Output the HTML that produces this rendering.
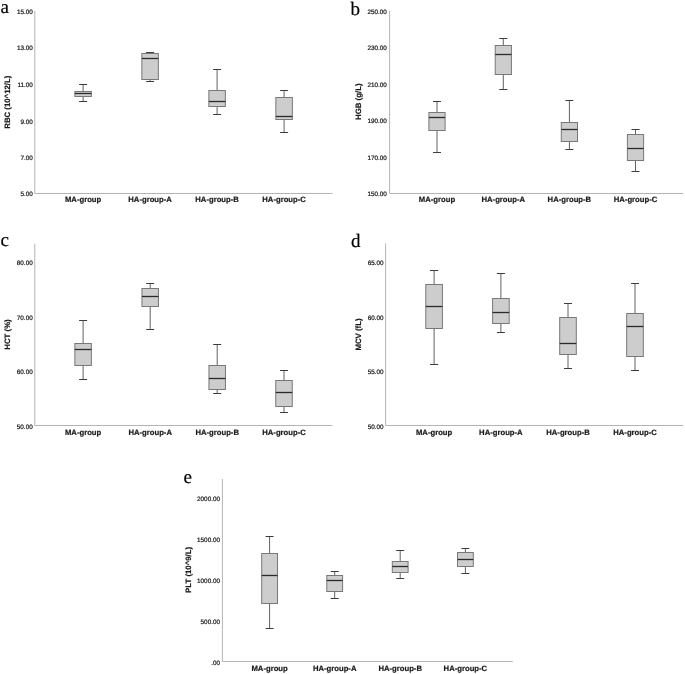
<!DOCTYPE html>
<html><head><meta charset="utf-8"><style>
html,body{margin:0;padding:0;background:#fff;}
body{width:685px;height:674px;overflow:hidden;}
svg{display:block;}
text{text-rendering:geometricPrecision;}
svg{will-change:transform;filter:blur(0.3px);}
text{font-family:"Liberation Sans",sans-serif;fill:#1a1a1a;}
.tk{font-size:6.35px;text-anchor:end;stroke:#1a1a1a;stroke-width:0.22px;}
.xl{font-size:7.7px;font-weight:bold;text-anchor:middle;stroke:#1a1a1a;stroke-width:0.2px;}
.yt{font-size:7.8px;font-weight:bold;text-anchor:middle;stroke:#1a1a1a;stroke-width:0.2px;}
.lt{font-family:"Liberation Serif",serif;font-size:19px;fill:#000;stroke:#000;stroke-width:0.2px;}
</style></head><body>
<svg width="685" height="674" viewBox="0 0 685 674">
<path d="M34.8 11V193.5H332.6" fill="none" stroke="#b4b4b4" stroke-width="1"/>
<text class="tk" x="32.8" y="13.8">15.00</text>
<text class="tk" x="32.8" y="50.4">13.00</text>
<text class="tk" x="32.8" y="87.2">11.00</text>
<text class="tk" x="32.8" y="123.7">9.00</text>
<text class="tk" x="32.8" y="159.9">7.00</text>
<text class="tk" x="32.8" y="195.8">5.00</text>
<text class="yt" transform="translate(10.2 102.2) rotate(-90)">RBC (10^12/L)</text>
<path d="M83.1 84.5V91.5M83.1 96.5V101.5" stroke="#626262" stroke-width="1" fill="none"/>
<path d="M79.1 84.5H87.1M79.1 101.5H87.1" stroke="#3c3c3c" stroke-width="1" fill="none"/>
<rect x="74.85" y="91.5" width="16.5" height="5" fill="#cdcdcd" stroke="#787878" stroke-width="1"/>
<path d="M74.85 93.5H91.35" stroke="#2a2a2a" stroke-width="1.3"/>
<text class="xl" x="83.1" y="202.2">MA-group</text>
<path d="M150.1 52.5V53.5M150.1 79.5V81.5" stroke="#626262" stroke-width="1" fill="none"/>
<path d="M146.1 52.5H154.1M146.1 81.5H154.1" stroke="#3c3c3c" stroke-width="1" fill="none"/>
<rect x="141.85" y="53.5" width="16.5" height="26" fill="#cdcdcd" stroke="#787878" stroke-width="1"/>
<path d="M141.85 58.5H158.35" stroke="#2a2a2a" stroke-width="1.3"/>
<text class="xl" x="150.1" y="202.2">HA-group-A</text>
<path d="M217.1 69.5V90.5M217.1 106.5V114.5" stroke="#626262" stroke-width="1" fill="none"/>
<path d="M213.1 69.5H221.1M213.1 114.5H221.1" stroke="#3c3c3c" stroke-width="1" fill="none"/>
<rect x="208.85" y="90.5" width="16.5" height="16" fill="#cdcdcd" stroke="#787878" stroke-width="1"/>
<path d="M208.85 101.5H225.35" stroke="#2a2a2a" stroke-width="1.3"/>
<text class="xl" x="217.1" y="202.2">HA-group-B</text>
<path d="M284.1 90.5V97.5M284.1 119.5V132.5" stroke="#626262" stroke-width="1" fill="none"/>
<path d="M280.1 90.5H288.1M280.1 132.5H288.1" stroke="#3c3c3c" stroke-width="1" fill="none"/>
<rect x="275.85" y="97.5" width="16.5" height="22" fill="#cdcdcd" stroke="#787878" stroke-width="1"/>
<path d="M275.85 116.5H292.35" stroke="#2a2a2a" stroke-width="1.3"/>
<text class="xl" x="284.1" y="202.2">HA-group-C</text>
<text class="lt" x="0.6" y="13">a</text>
<path d="M389.6 11V193.5H683" fill="none" stroke="#b4b4b4" stroke-width="1"/>
<text class="tk" x="386.9" y="14">250.00</text>
<text class="tk" x="386.9" y="50.2">230.00</text>
<text class="tk" x="386.9" y="86.7">210.00</text>
<text class="tk" x="386.9" y="123.1">190.00</text>
<text class="tk" x="386.9" y="159.7">170.00</text>
<text class="tk" x="386.9" y="196.1">150.00</text>
<text class="yt" transform="translate(360.6 101.7) rotate(-90)">HGB (g/L)</text>
<path d="M437 101.5V112.5M437 130.5V152.5" stroke="#626262" stroke-width="1" fill="none"/>
<path d="M433 101.5H441M433 152.5H441" stroke="#3c3c3c" stroke-width="1" fill="none"/>
<rect x="428.9" y="112.5" width="16.2" height="18" fill="#cdcdcd" stroke="#787878" stroke-width="1"/>
<path d="M428.9 117.5H445.1" stroke="#2a2a2a" stroke-width="1.3"/>
<text class="xl" x="437" y="202.2">MA-group</text>
<path d="M503.3 38.5V45.5M503.3 74.5V89.5" stroke="#626262" stroke-width="1" fill="none"/>
<path d="M499.3 38.5H507.3M499.3 89.5H507.3" stroke="#3c3c3c" stroke-width="1" fill="none"/>
<rect x="495.2" y="45.5" width="16.2" height="29" fill="#cdcdcd" stroke="#787878" stroke-width="1"/>
<path d="M495.2 54.5H511.4" stroke="#2a2a2a" stroke-width="1.3"/>
<text class="xl" x="503.3" y="202.2">HA-group-A</text>
<path d="M569.4 100.5V122.5M569.4 141.5V149.5" stroke="#626262" stroke-width="1" fill="none"/>
<path d="M565.4 100.5H573.4M565.4 149.5H573.4" stroke="#3c3c3c" stroke-width="1" fill="none"/>
<rect x="561.3" y="122.5" width="16.2" height="19" fill="#cdcdcd" stroke="#787878" stroke-width="1"/>
<path d="M561.3 129.5H577.5" stroke="#2a2a2a" stroke-width="1.3"/>
<text class="xl" x="569.4" y="202.2">HA-group-B</text>
<path d="M635.5 129.5V134.5M635.5 160.5V171.5" stroke="#626262" stroke-width="1" fill="none"/>
<path d="M631.5 129.5H639.5M631.5 171.5H639.5" stroke="#3c3c3c" stroke-width="1" fill="none"/>
<rect x="627.4" y="134.5" width="16.2" height="26" fill="#cdcdcd" stroke="#787878" stroke-width="1"/>
<path d="M627.4 148.5H643.6" stroke="#2a2a2a" stroke-width="1.3"/>
<text class="xl" x="635.5" y="202.2">HA-group-C</text>
<text class="lt" x="350.5" y="14.7">b</text>
<path d="M34.8 243.7V425.5H332.5" fill="none" stroke="#b4b4b4" stroke-width="1"/>
<text class="tk" x="32.7" y="264.9">80.00</text>
<text class="tk" x="32.7" y="319.6">70.00</text>
<text class="tk" x="32.7" y="374.2">60.00</text>
<text class="tk" x="32.7" y="428.9">50.00</text>
<text class="yt" transform="translate(10.1 334.5) rotate(-90)">HCT (%)</text>
<path d="M83.1 320.5V343.5M83.1 365.5V379.5" stroke="#626262" stroke-width="1" fill="none"/>
<path d="M79.1 320.5H87.1M79.1 379.5H87.1" stroke="#3c3c3c" stroke-width="1" fill="none"/>
<rect x="74.85" y="343.5" width="16.5" height="22" fill="#cdcdcd" stroke="#787878" stroke-width="1"/>
<path d="M74.85 349.5H91.35" stroke="#2a2a2a" stroke-width="1.3"/>
<text class="xl" x="83.1" y="434.7">MA-group</text>
<path d="M150.2 283.5V288.5M150.2 306.5V329.5" stroke="#626262" stroke-width="1" fill="none"/>
<path d="M146.2 283.5H154.2M146.2 329.5H154.2" stroke="#3c3c3c" stroke-width="1" fill="none"/>
<rect x="141.95" y="288.5" width="16.5" height="18" fill="#cdcdcd" stroke="#787878" stroke-width="1"/>
<path d="M141.95 296.5H158.45" stroke="#2a2a2a" stroke-width="1.3"/>
<text class="xl" x="150.2" y="434.7">HA-group-A</text>
<path d="M217.2 344.5V365.5M217.2 389.5V393.5" stroke="#626262" stroke-width="1" fill="none"/>
<path d="M213.2 344.5H221.2M213.2 393.5H221.2" stroke="#3c3c3c" stroke-width="1" fill="none"/>
<rect x="208.95" y="365.5" width="16.5" height="24" fill="#cdcdcd" stroke="#787878" stroke-width="1"/>
<path d="M208.95 378.5H225.45" stroke="#2a2a2a" stroke-width="1.3"/>
<text class="xl" x="217.2" y="434.7">HA-group-B</text>
<path d="M284 370.5V380.5M284 406.5V412.5" stroke="#626262" stroke-width="1" fill="none"/>
<path d="M280 370.5H288M280 412.5H288" stroke="#3c3c3c" stroke-width="1" fill="none"/>
<rect x="275.75" y="380.5" width="16.5" height="26" fill="#cdcdcd" stroke="#787878" stroke-width="1"/>
<path d="M275.75 392.5H292.25" stroke="#2a2a2a" stroke-width="1.3"/>
<text class="xl" x="284" y="434.7">HA-group-C</text>
<text class="lt" x="0.6" y="246.3">c</text>
<path d="M385.6 243.5V425.5H683" fill="none" stroke="#b4b4b4" stroke-width="1"/>
<text class="tk" x="383.6" y="264.9">65.00</text>
<text class="tk" x="383.6" y="319.6">60.00</text>
<text class="tk" x="383.6" y="374.2">55.00</text>
<text class="tk" x="383.6" y="428.8">50.00</text>
<text class="yt" transform="translate(360.5 334.5) rotate(-90)">MCV (fL)</text>
<path d="M434.1 270.5V284.5M434.1 328.5V364.5" stroke="#626262" stroke-width="1" fill="none"/>
<path d="M430.1 270.5H438.1M430.1 364.5H438.1" stroke="#3c3c3c" stroke-width="1" fill="none"/>
<rect x="425.8" y="284.5" width="16.6" height="44" fill="#cdcdcd" stroke="#787878" stroke-width="1"/>
<path d="M425.8 306.5H442.4" stroke="#2a2a2a" stroke-width="1.3"/>
<text class="xl" x="434.1" y="434.7">MA-group</text>
<path d="M500.9 273.5V298.5M500.9 323.5V332.5" stroke="#626262" stroke-width="1" fill="none"/>
<path d="M496.9 273.5H504.9M496.9 332.5H504.9" stroke="#3c3c3c" stroke-width="1" fill="none"/>
<rect x="492.6" y="298.5" width="16.6" height="25" fill="#cdcdcd" stroke="#787878" stroke-width="1"/>
<path d="M492.6 312.5H509.2" stroke="#2a2a2a" stroke-width="1.3"/>
<text class="xl" x="500.9" y="434.7">HA-group-A</text>
<path d="M568 303.5V317.5M568 354.5V368.5" stroke="#626262" stroke-width="1" fill="none"/>
<path d="M564 303.5H572M564 368.5H572" stroke="#3c3c3c" stroke-width="1" fill="none"/>
<rect x="559.7" y="317.5" width="16.6" height="37" fill="#cdcdcd" stroke="#787878" stroke-width="1"/>
<path d="M559.7 343.5H576.3" stroke="#2a2a2a" stroke-width="1.3"/>
<text class="xl" x="568" y="434.7">HA-group-B</text>
<path d="M635 283.5V313.5M635 356.5V370.5" stroke="#626262" stroke-width="1" fill="none"/>
<path d="M631 283.5H639M631 370.5H639" stroke="#3c3c3c" stroke-width="1" fill="none"/>
<rect x="626.7" y="313.5" width="16.6" height="43" fill="#cdcdcd" stroke="#787878" stroke-width="1"/>
<path d="M626.7 326.5H643.3" stroke="#2a2a2a" stroke-width="1.3"/>
<text class="xl" x="635" y="434.7">HA-group-C</text>
<text class="lt" x="351" y="247.1">d</text>
<path d="M222.4 479V661.5H512.7" fill="none" stroke="#b4b4b4" stroke-width="1"/>
<text class="tk" x="220" y="500.8">2000.00</text>
<text class="tk" x="220" y="541.9">1500.00</text>
<text class="tk" x="220" y="582.8">1000.00</text>
<text class="tk" x="220" y="623.7">500.00</text>
<text class="tk" x="220" y="664.5">.00</text>
<text class="yt" transform="translate(190.5 569.9) rotate(-90)">PLT (10^9/L)</text>
<path d="M269.6 536.5V553.5M269.6 603.5V628.5" stroke="#626262" stroke-width="1" fill="none"/>
<path d="M265.6 536.5H273.6M265.6 628.5H273.6" stroke="#3c3c3c" stroke-width="1" fill="none"/>
<rect x="261.7" y="553.5" width="15.8" height="50" fill="#cdcdcd" stroke="#787878" stroke-width="1"/>
<path d="M261.7 575.5H277.5" stroke="#2a2a2a" stroke-width="1.3"/>
<text class="xl" x="269.6" y="670.7">MA-group</text>
<path d="M334.7 571.5V575.5M334.7 591.5V598.5" stroke="#626262" stroke-width="1" fill="none"/>
<path d="M330.7 571.5H338.7M330.7 598.5H338.7" stroke="#3c3c3c" stroke-width="1" fill="none"/>
<rect x="326.8" y="575.5" width="15.8" height="16" fill="#cdcdcd" stroke="#787878" stroke-width="1"/>
<path d="M326.8 580.5H342.6" stroke="#2a2a2a" stroke-width="1.3"/>
<text class="xl" x="334.7" y="670.7">HA-group-A</text>
<path d="M400.2 550.5V561.5M400.2 572.5V578.5" stroke="#626262" stroke-width="1" fill="none"/>
<path d="M396.2 550.5H404.2M396.2 578.5H404.2" stroke="#3c3c3c" stroke-width="1" fill="none"/>
<rect x="392.3" y="561.5" width="15.8" height="11" fill="#cdcdcd" stroke="#787878" stroke-width="1"/>
<path d="M392.3 566.5H408.1" stroke="#2a2a2a" stroke-width="1.3"/>
<text class="xl" x="400.2" y="670.7">HA-group-B</text>
<path d="M465.4 548.5V552.5M465.4 566.5V573.5" stroke="#626262" stroke-width="1" fill="none"/>
<path d="M461.4 548.5H469.4M461.4 573.5H469.4" stroke="#3c3c3c" stroke-width="1" fill="none"/>
<rect x="457.5" y="552.5" width="15.8" height="14" fill="#cdcdcd" stroke="#787878" stroke-width="1"/>
<path d="M457.5 559.5H473.3" stroke="#2a2a2a" stroke-width="1.3"/>
<text class="xl" x="465.4" y="670.7">HA-group-C</text>
<text class="lt" x="183.5" y="482.5">e</text>
</svg>
</body></html>
